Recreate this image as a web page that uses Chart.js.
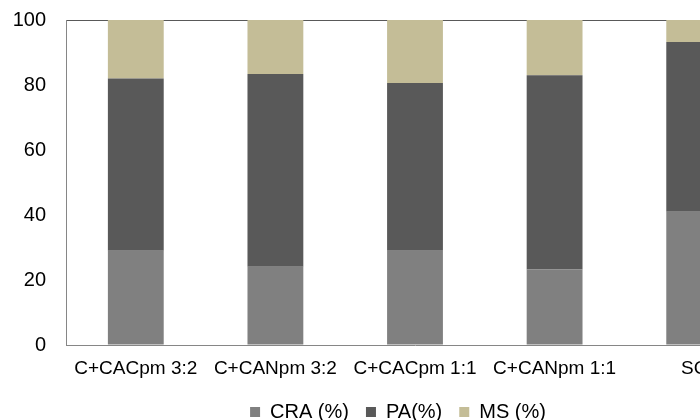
<!DOCTYPE html>
<html>
<head>
<meta charset="utf-8">
<script src="https://cdn.jsdelivr.net/npm/chart.js@4.4.0/dist/chart.umd.min.js"></script>
<style>
  html, body { margin: 0; padding: 0; background: #fff; overflow: hidden; }
  #wrap { width: 795px; height: 420px; position: relative; }
</style>
</head>
<body>
<div id="wrap"><canvas id="myChart"></canvas></div>
<script>
const categories = ['C+CACpm 3:2', 'C+CANpm 3:2', 'C+CACpm 1:1', 'C+CANpm 1:1', 'SC'];
const craValues = [29.0, 24.1, 29.0, 23.2, 41.0];
const paValues = [53.0, 59.3, 51.6, 59.8, 52.2];
const msValues = [18.0, 16.6, 19.4, 17.0, 6.8];
const yTicks = [0, 20, 40, 60, 80, 100];

const FONT = "'Liberation Sans', Arial, sans-serif";

// the legend is centred under the plot area, not the whole canvas
const legendShift = {
    id: 'legendShift',
    afterLayout(chart) {
        chart.legend.left += 16;
        chart.legend.right += 16;
    }
};

function configuration() {
    let datasets = [
        { label: 'CRA (%)', data: craValues, backgroundColor: '#808080' },
        { label: 'PA(%)', data: paValues, backgroundColor: '#595959' },
        { label: 'MS (%)', data: msValues, backgroundColor: '#c4bd97' }
    ];
    for (let ds of datasets) {
        ds.barPercentage = 0.4;
        ds.categoryPercentage = 1.0;
        ds.borderWidth = 0;
    }
    return {
        type: 'bar',
        data: { labels: categories, datasets: datasets },
        plugins: [legendShift],
        options: {
            responsive: true,
            maintainAspectRatio: false,
            animation: false,
            layout: { padding: { top: 20, right: 31, bottom: -12, left: 0 } },
            plugins: {
                tooltip: { enabled: false },
                legend: {
                    position: 'bottom',
                    labels: {
                        boxWidth: 10,
                        boxHeight: 10,
                        padding: 17,
                        color: '#000',
                        font: { family: FONT, size: 20 }
                    }
                }
            },
            scales: {
                x: {
                    stacked: true,
                    grid: { display: false },
                    border: { display: true, color: '#868686', width: 1 },
                    ticks: {
                        color: '#000',
                        maxRotation: 0,
                        autoSkip: false,
                        padding: 4,
                        font: { family: FONT, size: 19 }
                    },
                    afterFit: scale => {
                        scale.height = 40;
                        scale.paddingLeft = 0;
                        scale.paddingRight = 0;
                    }
                },
                y: {
                    stacked: true,
                    min: 0,
                    max: 100,
                    afterBuildTicks: scale => {
                        scale.ticks = yTicks.map(v => ({ value: v }));
                    },
                    afterFit: scale => {
                        scale.width = 66;
                        scale.paddingTop = 0;
                        scale.paddingBottom = 0;
                    },
                    grid: {
                        drawTicks: false,
                        color: ctx => ctx.tick && ctx.tick.value === 100 ? '#595959' : 'rgba(0,0,0,0)'
                    },
                    border: { display: true, color: '#868686', width: 1 },
                    ticks: {
                        color: '#000',
                        padding: 20,
                        font: { family: FONT, size: 20 }
                    }
                }
            }
        }
    };
}

const myChart = new Chart(document.getElementById('myChart'), configuration());
</script>
</body>
</html>
